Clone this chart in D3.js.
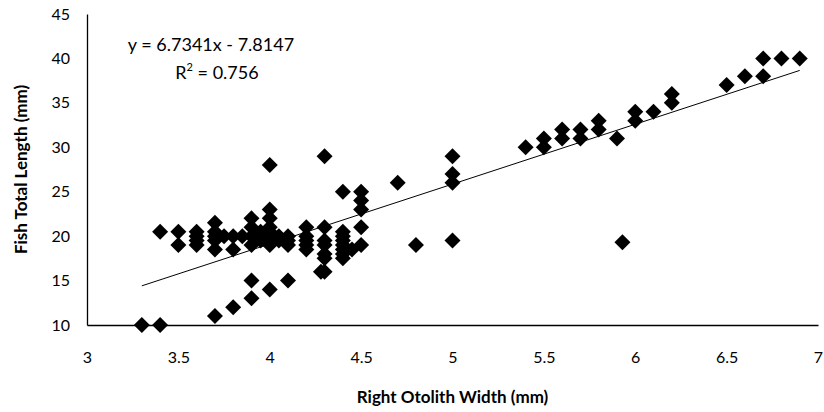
<!DOCTYPE html>
<html>
<head>
    <title>Fish Length vs Otolith Width</title>
    <script src="https://d3js.org/d3.v7.min.js"></script>
    <style>
        body { margin: 0; background: #fff; }
        text { font-family: Lato, "Open Sans", sans-serif; fill: #000; }
    </style>
</head>
<body>
    <script>
// otolith width (mm) and fish total length (mm)
let otolithWidth = [
    3.3, 3.4, 3.4,
    3.5, 3.5,
    3.6, 3.6, 3.6, 3.6,
    3.7, 3.7, 3.7, 3.7, 3.7, 3.7,
    3.75, 3.8, 3.8, 3.8, 3.85,
    3.9, 3.9, 3.9, 3.9, 3.9, 3.9, 3.95, 3.95,
    4.0, 4.0, 4.0, 4.0, 4.0, 4.0, 4.0, 4.0, 4.0,
    4.05, 4.05,
    4.1, 4.1, 4.1, 4.1,
    4.2, 4.2, 4.2, 4.2, 4.2,
    4.3, 4.3, 4.3, 4.3, 4.3, 4.3, 4.3, 4.28,
    4.4, 4.4, 4.4, 4.4, 4.4, 4.4, 4.4, 4.4, 4.45,
    4.5, 4.5, 4.5, 4.5, 4.5,
    4.7, 4.8,
    5.0, 5.0, 5.0, 5.0,
    5.4, 5.5, 5.5, 5.6, 5.6, 5.7, 5.7, 5.8, 5.8, 5.9, 5.93,
    6.0, 6.0, 6.1, 6.2, 6.2,
    6.5, 6.6, 6.7, 6.7, 6.8, 6.9
];
let fishLength = [
    10, 10, 20.5,
    20.5, 19,
    20.5, 20, 19.5, 19,
    21.5, 20.5, 20, 19.5, 18.5, 11,
    20, 20, 18.5, 12, 20,
    22, 21, 20, 19, 15, 13, 20.5, 19.5,
    28, 23, 22, 21, 20.5, 20, 19.5, 19, 14,
    20, 19.5,
    20, 19.5, 19, 15,
    21, 20, 19.5, 19, 18.5,
    29, 21, 19.5, 19, 18, 17.5, 16, 16,
    25, 20.5, 20, 19.5, 19, 18.5, 18, 17.5, 18.5,
    25, 24, 23, 21, 19,
    26, 19,
    29, 27, 26, 19.5,
    30, 31, 30, 32, 31, 32, 31, 33, 32, 31, 19.3,
    34, 33, 34, 36, 35,
    37, 38, 40, 38, 40, 40
];
let xTicks = [3, 3.5, 4, 4.5, 5, 5.5, 6, 6.5, 7];
let yTicks = [10, 15, 20, 25, 30, 35, 40, 45];
let slope = 6.7341, intercept = -7.8147;
let trendRange = [3.3, 6.9];

let width = 824, height = 412;
let plotLeft = 87, plotRight = 818, plotTop = 14, plotBottom = 325;

let x = d3.scaleLinear().domain([3, 7]).range([plotLeft, plotRight]);
let y = d3.scaleLinear().domain([10, 45]).range([plotBottom, plotTop]);

let svg = d3.select("body").append("svg")
    .attr("width", width)
    .attr("height", height);

// axes: plain lines, labels only
let xAxis = svg.append("g")
    .attr("transform", `translate(0,${plotBottom})`)
    .call(d3.axisBottom(x).tickValues(xTicks).tickSize(0).tickPadding(27).tickFormat(d3.format("")));
let yAxis = svg.append("g")
    .attr("transform", `translate(${plotLeft},0)`)
    .call(d3.axisLeft(y).tickValues(yTicks).tickSize(0).tickPadding(17));
[xAxis, yAxis].forEach(g => {
    g.select(".domain").attr("stroke", "#000").attr("stroke-width", 1.3);
    g.selectAll("text").style("font-size", "16px").style("font-family", "Lato, sans-serif");
});

// trendline
svg.append("line")
    .attr("x1", x(trendRange[0])).attr("y1", y(slope * trendRange[0] + intercept))
    .attr("x2", x(trendRange[1])).attr("y2", y(slope * trendRange[1] + intercept))
    .attr("stroke", "#000").attr("stroke-width", 1);

// diamond markers
let diamond = d3.symbol().type(d3.symbolSquare).size(128);
svg.append("g").selectAll("path")
    .data(otolithWidth.map((d, i) => [d, fishLength[i]]))
    .enter()
    .append("path")
    .attr("d", diamond)
    .attr("transform", d => `translate(${x(d[0])},${y(d[1])}) rotate(45)`)
    .attr("fill", "#000");

// equation
svg.append("text")
    .attr("x", 211).attr("y", 51)
    .attr("text-anchor", "middle")
    .style("font-size", "18px")
    .text("y = 6.7341x - 7.8147");
let r2 = svg.append("text")
    .attr("x", 217).attr("y", 79)
    .attr("text-anchor", "middle")
    .style("font-size", "18px");
r2.append("tspan").text("R");
r2.append("tspan").attr("dy", -8).style("font-size", "11px").text("2");
r2.append("tspan").attr("dy", 8).text(" = 0.756");

// axis titles
svg.append("text")
    .attr("x", (plotLeft + plotRight) / 2).attr("y", 403)
    .attr("text-anchor", "middle")
    .style("font-size", "17px").style("font-weight", "bold")
    .text("Right Otolith Width (mm)");
svg.append("text")
    .attr("transform", `translate(27,${(plotTop + plotBottom) / 2}) rotate(-90)`)
    .attr("text-anchor", "middle")
    .style("font-size", "17px").style("font-weight", "bold")
    .text("Fish Total Length (mm)");
    </script>
</body>
</html>
